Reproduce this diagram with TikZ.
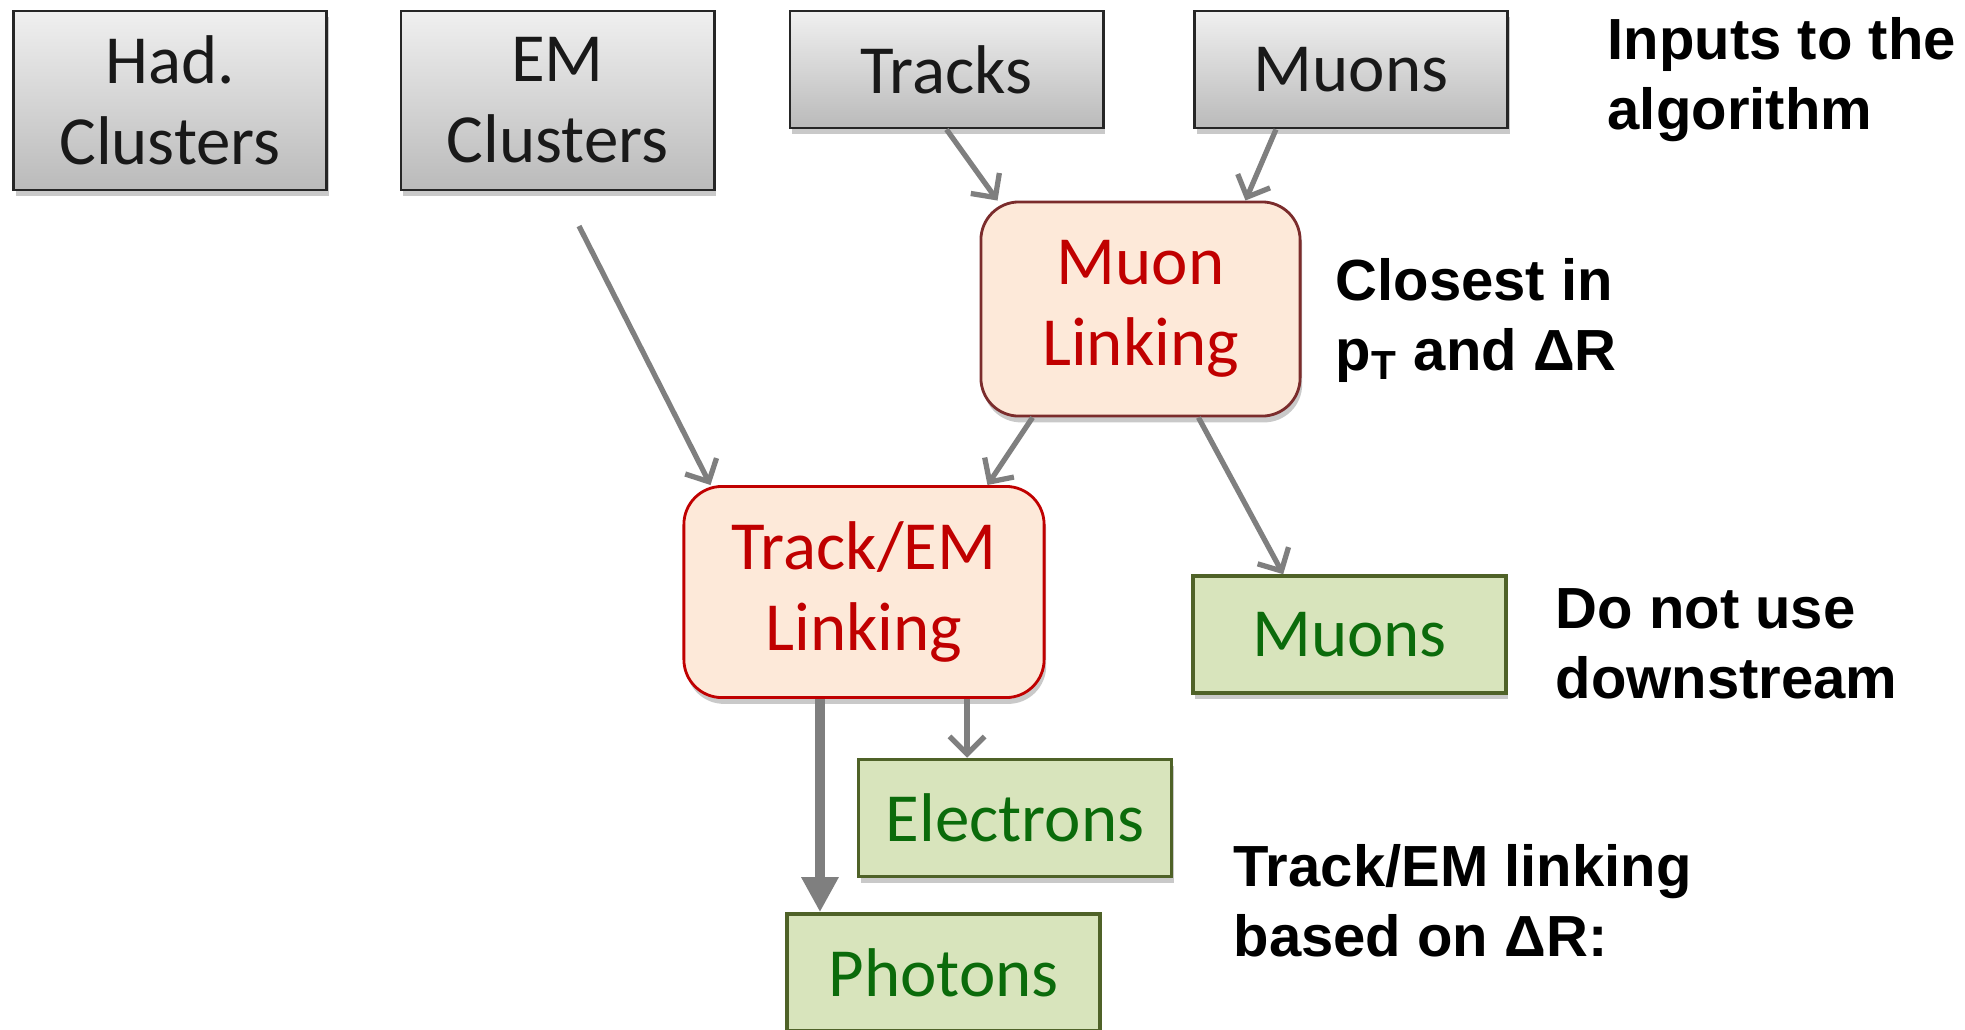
\documentclass[tikz,border=0pt]{standalone}
\usepackage{fontspec}
\setmainfont{Liberation Sans}
\newfontfamily\boxfont{Carlito}
\usetikzlibrary{arrows.meta,shadows}

\definecolor{arrowgray}{HTML}{7F7F7F}
\definecolor{linkfill}{HTML}{FDE9D9}
\definecolor{linkred}{HTML}{C00000}
\definecolor{linkdark}{HTML}{7B2C2C}
\definecolor{outfill}{HTML}{D8E4BC}
\definecolor{outedge}{HTML}{4F6228}
\definecolor{outtext}{HTML}{0B6B0B}

\tikzset{
  boxshadow/.style={drop shadow={shadow xshift=0.6pt, shadow yshift=-1.8pt, opacity=0.3, fill=black!70}},
  inbox/.style={draw=black!85, line width=0.8pt, top color=black!6, bottom color=black!27,
    minimum width=3.13cm, text width=3.0cm, align=center, inner sep=0pt, boxshadow,
    font=\boxfont\fontsize{19.6}{23}\selectfont, text=black!90},
  linkbox/.style={draw=linkred, line width=0.8pt, fill=linkfill, rounded corners=0.38cm,
    align=center, inner sep=0pt, boxshadow, font=\boxfont\fontsize{19.6}{23}\selectfont, text=linkred},
  outbox/.style={draw=outedge, line width=1pt, fill=outfill, minimum width=3.13cm,
    minimum height=1.17cm, inner sep=0pt, boxshadow, font=\boxfont\fontsize{19.6}{23}\selectfont, text=outtext},
  note/.style={anchor=base west, align=left, inner sep=0pt, font=\bfseries\fontsize{16.5}{19.9}\selectfont},
  flow/.style={draw=arrowgray, line width=1.5pt, -{Straight Barb[length=5pt,width=10pt]}},
  bigflow/.style={draw=arrowgray, line width=2.8pt, -{Triangle[length=10pt,width=10pt]}}
}

\begin{document}
\begin{tikzpicture}[x=0.01cm, y=-0.01cm]
  \useasboundingbox (0,0) rectangle (1965,1029);

  % inputs
  \node[inbox, minimum height=1.79cm] (had)  at (170,100.5)  {Had.\\Clusters};
  \node[inbox, minimum height=1.79cm] (emc)  at (557.5,100.5) {EM\\Clusters};
  \node[inbox, minimum height=1.17cm] (trk)  at (946.5,69.5)  {Tracks};
  \node[inbox, minimum height=1.17cm] (muin) at (1351,69.5)   {Muons};

  % linking steps
  \node[linkbox, draw=linkdark, minimum width=3.19cm, minimum height=2.14cm] (mulink) at (1140.5,309) {Muon\\Linking};
  \node[linkbox, minimum width=3.6cm, minimum height=2.11cm] (tel) at (864,592) {Track/EM\\Linking};

  % outputs
  \node[outbox] (muout) at (1349.5,634.5) {Muons};
  \node[outbox] (ele)   at (1015,818)     {Electrons};
  \node[outbox] (pho)   at (943.5,972.5)  {Photons};

  % side notes (base = last line)
  \node[note] (nin)  at (1607,129) {Inputs to the\\algorithm};
  \node[note] (nmu)  at (1335,370) {Closest in\\p\textsubscript{T} and ΔR};
  \node[note] (nout) at (1555,698) {Do not use\\downstream};
  \node[note] (ntel) at (1233,956) {Track/EM linking\\based on ΔR:};

  % connectors
  \coordinate (emout) at (579,226);
  \draw[flow] (emout) -- ([xshift=0.28cm]tel.north west);
  \draw[flow] (trk.south) -- ([xshift=0.18cm]mulink.north west);
  \draw[flow] ([xshift=-0.75cm]muin.south) -- ([xshift=-0.56cm]mulink.north east);
  \draw[flow] ([xshift=0.53cm]mulink.south west) -- ([xshift=-0.58cm]tel.north east);
  \draw[flow] ([xshift=-1.03cm]mulink.south east) -- ([xshift=0.92cm]muout.north west);
  \draw[flow] ([xshift=1.03cm]tel.south) -- ([xshift=1.03cm]tel.south |- ele.north);
  \draw[bigflow] ([xshift=-0.44cm]tel.south) -- ([xshift=-0.44cm]tel.south |- pho.north);
\end{tikzpicture}
\end{document}
